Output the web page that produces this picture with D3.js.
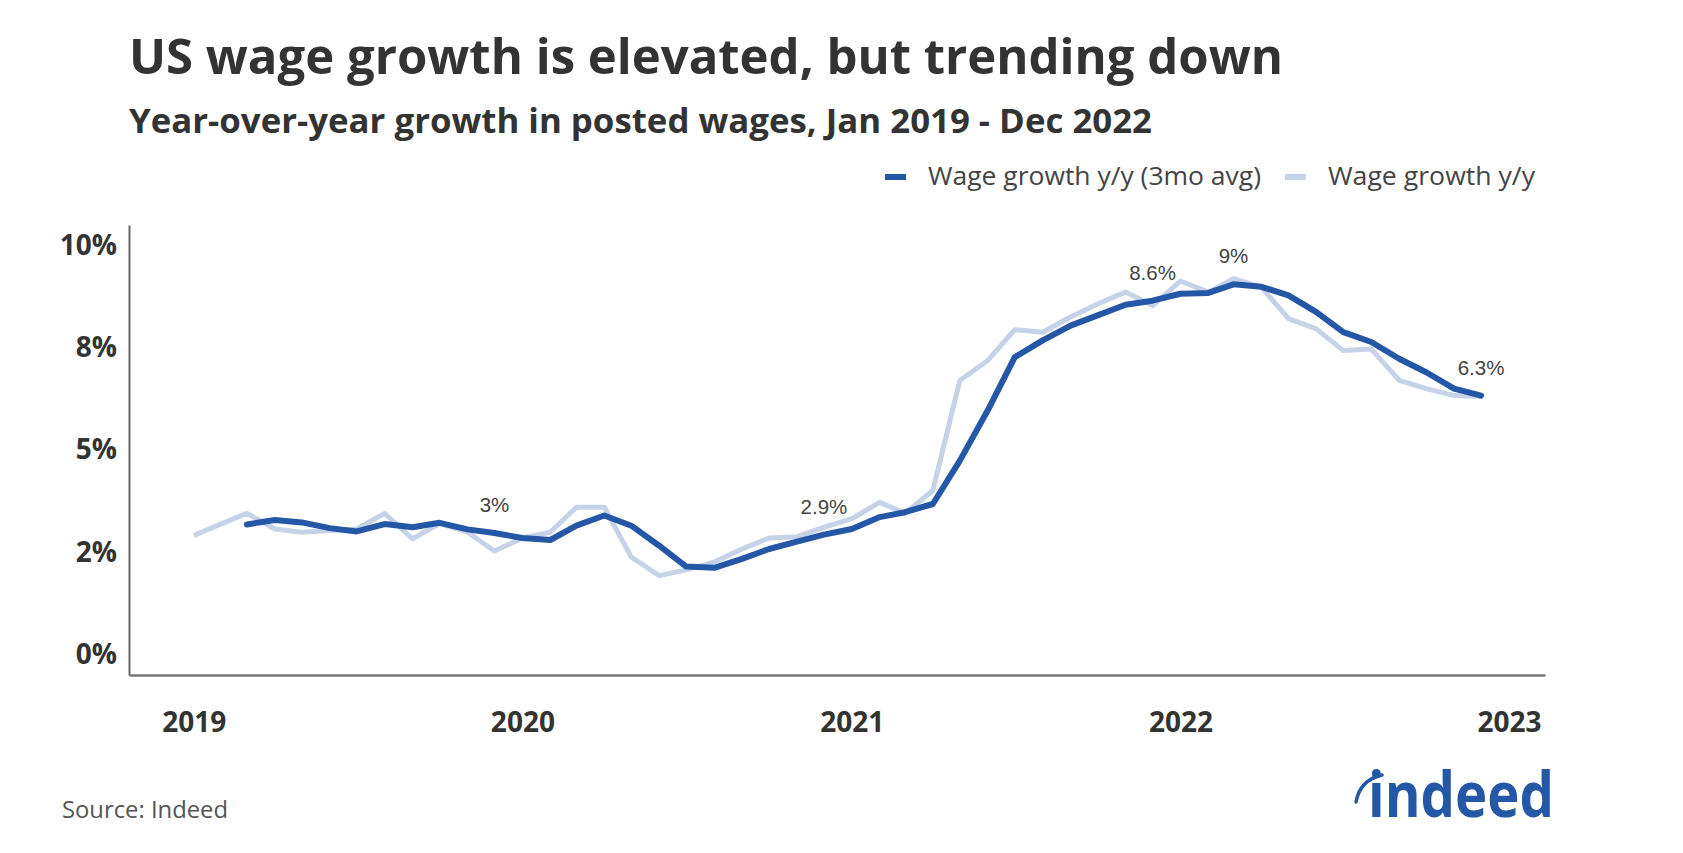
<!DOCTYPE html>
<html>
<head>
<meta charset="utf-8">
<script src="https://cdn.jsdelivr.net/npm/d3@7"></script>
<style>
  body { margin: 0; background: #fff; }
  svg { display: block; font-family: "Open Sans", "Noto Sans", sans-serif; }
</style>
</head>
<body>
<div id="chart"></div>
<script>
const months = [
  "2019-01","2019-02","2019-03","2019-04","2019-05","2019-06","2019-07","2019-08","2019-09","2019-10","2019-11","2019-12",
  "2020-01","2020-02","2020-03","2020-04","2020-05","2020-06","2020-07","2020-08","2020-09","2020-10","2020-11","2020-12",
  "2021-01","2021-02","2021-03","2021-04","2021-05","2021-06","2021-07","2021-08","2021-09","2021-10","2021-11","2021-12",
  "2022-01","2022-02","2022-03","2022-04","2022-05","2022-06","2022-07","2022-08","2022-09","2022-10","2022-11","2022-12"
];

// monthly y/y wage growth (%)
const wageGrowth = [
  2.91, 3.20, 3.45, 3.07, 2.99, 3.03, 3.07, 3.45, 2.83, 3.20, 2.99, 2.53,
  2.85, 2.99, 3.60, 3.60, 2.38, 1.93, 2.07, 2.26, 2.58, 2.85, 2.88, 3.11,
  3.32, 3.72, 3.45, 4.01, 6.70, 7.19, 7.94, 7.88, 8.25, 8.57, 8.86, 8.53,
  9.13, 8.86, 9.19, 8.98, 8.21, 7.96, 7.43, 7.47, 6.70, 6.50, 6.33, 6.31
];

// 3 month average (starts in March 2019)
const wageGrowth3mo = [
  null, null, 3.18, 3.29, 3.23, 3.09, 3.01, 3.19, 3.11, 3.22, 3.06, 2.97,
  2.85, 2.80, 3.15, 3.40, 3.15, 2.66, 2.15, 2.12, 2.34, 2.58, 2.76, 2.93,
  3.07, 3.36, 3.48, 3.68, 4.74, 5.97, 7.27, 7.68, 8.04, 8.29, 8.55, 8.65,
  8.82, 8.84, 9.05, 8.99, 8.78, 8.37, 7.88, 7.64, 7.23, 6.90, 6.50, 6.33
];

const annotMonths = ["2019-12", "2020-12", "2021-12", "2022-03", "2022-12"];
const annotLabels = ["3%", "2.9%", "8.6%", "9%", "6.3%"];

const yTicks = [0, 2.5, 5, 7.5, 10];
const yTickLabels = ["0%", "2%", "5%", "8%", "10%"];
const xTicks = ["2019-01", "2020-01", "2021-01", "2022-01", "2023-01"];
const xTickLabels = ["2019", "2020", "2021", "2022", "2023"];

const seriesNames = ["Wage growth y/y (3mo avg)", "Wage growth y/y"];

const W = 1683, H = 853;
const blue = "#2557a7", light = "#c6d2e8", ink = "#333";
const parse = d3.timeParse("%Y-%m");

const svg = d3.select("#chart").append("svg")
  .attr("width", W)
  .attr("height", H);

const x = d3.scaleTime()
  .domain([new Date(2018, 9, 21), new Date(2023, 1, 10)])
  .range([129, 1545]);

const y = d3.scaleLinear()
  .domain([-0.5, 10.5])
  .range([675, 225]);

// titles
svg.append("text")
  .attr("x", 129).attr("y", 74)
  .attr("textLength", 1154).attr("lengthAdjust", "spacingAndGlyphs")
  .style("font-size", "48px").style("font-weight", 700).style("fill", ink)
  .text("US wage growth is elevated, but trending down");

svg.append("text")
  .attr("x", 129).attr("y", 133)
  .attr("textLength", 1023).attr("lengthAdjust", "spacingAndGlyphs")
  .style("font-size", "34px").style("font-weight", 700).style("fill", ink)
  .text("Year-over-year growth in posted wages, Jan 2019 - Dec 2022");

// legend
const legendItems = [
  { name: seriesNames[0], color: blue, x: 885, w: 333 },
  { name: seriesNames[1], color: light, x: 1285, w: 207 }
];
const legend = svg.selectAll(".legend-item")
  .data(legendItems)
  .join("g")
  .attr("class", "legend-item")
  .attr("transform", (d) => `translate(${d.x},177)`);

legend.append("rect")
  .attr("x", 0).attr("y", -3)
  .attr("width", 21).attr("height", 6)
  .attr("fill", (d) => d.color);

legend.append("text")
  .attr("x", 43).attr("y", 8)
  .attr("textLength", (d) => d.w).attr("lengthAdjust", "spacingAndGlyphs")
  .style("font-size", "25px").style("fill", "#444")
  .text((d) => d.name);

// axes
const yAxis = svg.append("g")
  .attr("transform", "translate(129,0)")
  .call(d3.axisLeft(y)
    .tickValues(yTicks)
    .tickSize(0)
    .tickPadding(12)
    .tickFormat((d, i) => yTickLabels[i]));

const xAxis = svg.append("g")
  .attr("transform", "translate(0,675)")
  .call(d3.axisBottom(x)
    .tickValues(xTicks.map(parse))
    .tickSize(0)
    .tickPadding(37)
    .tickFormat((d, i) => xTickLabels[i]));

yAxis.select(".domain").attr("stroke", "#666").attr("stroke-width", 2);
xAxis.select(".domain").attr("stroke", "#777").attr("stroke-width", 2.5);

svg.selectAll(".tick text")
  .style("font-family", "'Open Sans', sans-serif")
  .style("font-size", "28px")
  .style("font-weight", 700)
  .style("fill", ink);

// lines
const rows = months.map((m, i) => ({
  date: parse(m),
  raw: wageGrowth[i],
  avg: wageGrowth3mo[i]
}));

const lineRaw = d3.line()
  .x((d) => x(d.date))
  .y((d) => y(d.raw));

const lineAvg = d3.line()
  .defined((d) => d.avg !== null)
  .x((d) => x(d.date))
  .y((d) => y(d.avg));

svg.append("path")
  .datum(rows)
  .attr("fill", "none")
  .attr("stroke", light)
  .attr("stroke-width", 5)
  .attr("stroke-linejoin", "round")
  .attr("d", lineRaw);

svg.append("path")
  .datum(rows)
  .attr("fill", "none")
  .attr("stroke", blue)
  .attr("stroke-width", 6)
  .attr("stroke-linejoin", "round")
  .attr("stroke-linecap", "round")
  .attr("d", lineAvg);

// value labels
svg.selectAll(".annot")
  .data(annotMonths)
  .join("text")
  .attr("class", "annot")
  .attr("x", (d) => x(parse(d)))
  .attr("y", (d) => y(wageGrowth3mo[months.indexOf(d)]) - 21)
  .attr("text-anchor", "middle")
  .style("font-family", "'Liberation Sans', Arial, sans-serif")
  .style("font-size", "20.5px")
  .style("fill", "#444")
  .text((d, i) => annotLabels[i]);

// source + logo
svg.append("text")
  .attr("x", 62).attr("y", 818)
  .attr("textLength", 166).attr("lengthAdjust", "spacingAndGlyphs")
  .style("font-size", "23px").style("fill", "#555")
  .text("Source: Indeed");

svg.append("text")
  .attr("x", 1368).attr("y", 817)
  .attr("textLength", 186).attr("lengthAdjust", "spacingAndGlyphs")
  .style("font-size", "62px").style("font-weight", 700)
  .style("fill", blue)
  .text("indeed");

svg.append("path")
  .attr("d", "M1356,802 Q1360,780 1382,775")
  .attr("fill", "none")
  .attr("stroke", blue)
  .attr("stroke-width", 3.5)
  .attr("stroke-linecap", "round");
</script>
</body>
</html>
